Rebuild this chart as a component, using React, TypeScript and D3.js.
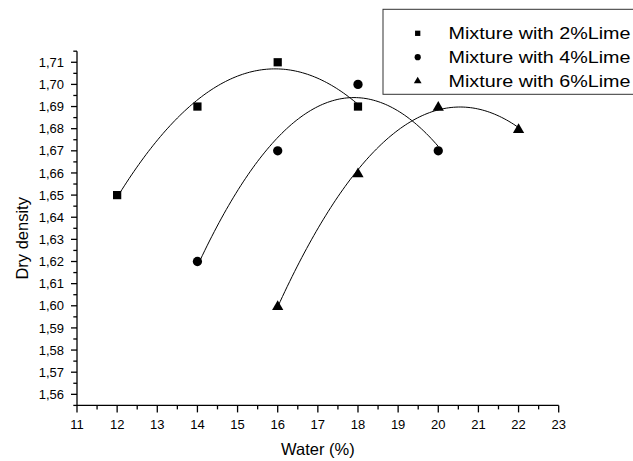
import React from "react";
import * as d3 from "d3";

const water2 = [12, 14, 16, 18];
const density2 = [1.65, 1.69, 1.71, 1.69];
const water4 = [14, 16, 18, 20];
const density4 = [1.62, 1.67, 1.70, 1.67];
const water6 = [16, 18, 20, 22];
const density6 = [1.60, 1.66, 1.69, 1.68];
const seriesNames = ["Mixture with 2%Lime", "Mixture with 4%Lime", "Mixture with 6%Lime"];
const xTicks = [11, 12, 13, 14, 15, 16, 17, 18, 19, 20, 21, 22, 23];
const yTicks = [1.56, 1.57, 1.58, 1.59, 1.6, 1.61, 1.62, 1.63, 1.64, 1.65, 1.66, 1.67, 1.68, 1.69, 1.7, 1.71];

const W = 633, H = 461;
const x = d3.scaleLinear().domain([11, 23]).range([77, 558.7]);
const y = d3.scaleLinear().domain([1.555, 1.715]).range([405.4, 51.2]);

function quadFit(xs: number[], ys: number[]) {
  // least squares y = a + b x + c x^2
  const n = xs.length;
  let s = [0, 0, 0, 0, 0], t = [0, 0, 0];
  for (let i = 0; i < n; i++) {
    const xv = xs[i];
    for (let k = 0; k <= 4; k++) s[k] += Math.pow(xv, k);
    for (let k = 0; k <= 2; k++) t[k] += Math.pow(xv, k) * ys[i];
  }
  const M = [
    [s[0], s[1], s[2], t[0]],
    [s[1], s[2], s[3], t[1]],
    [s[2], s[3], s[4], t[2]],
  ];
  for (let i = 0; i < 3; i++) {
    let p = i;
    for (let r = i + 1; r < 3; r++) if (Math.abs(M[r][i]) > Math.abs(M[p][i])) p = r;
    [M[i], M[p]] = [M[p], M[i]];
    for (let r = 0; r < 3; r++) {
      if (r === i) continue;
      const f = M[r][i] / M[i][i];
      for (let c = i; c < 4; c++) M[r][c] -= f * M[i][c];
    }
  }
  const a = M[0][3] / M[0][0], b = M[1][3] / M[1][1], c = M[2][3] / M[2][2];
  return (v: number) => a + b * v + c * v * v;
}

const series = [
  { xs: water2, ys: density2, sym: d3.symbolSquare, size: 68, lsize: 28 },
  { xs: water4, ys: density4, sym: d3.symbolCircle, size: 68, lsize: 30 },
  { xs: water6, ys: density6, sym: d3.symbolTriangle, size: 55, lsize: 26 },
];

export default function App() {
  const line = d3.line<[number, number]>().x((d) => x(d[0])).y((d) => y(d[1]));
  const minorX = d3.range(11.5, 23, 1);
  const minorY = d3.range(1.555, 1.7151, 0.01);
  const fmt = (v: number) => d3.format(".2f")(v).replace(".", ",");
  const font = "Arial, 'Liberation Sans', sans-serif";
  return (
    <svg width={W} height={H} style={{ position: "absolute", left: 0, top: 0, background: "#fff" }} fontFamily={font}>
      {series.map((s, i) => {
        const f = quadFit(s.xs, s.ys);
        const x0 = d3.min(s.xs)!, x1 = d3.max(s.xs)!;
        const pts: [number, number][] = d3.range(0, 101).map((k) => {
          const v = x0 + ((x1 - x0) * k) / 100;
          return [v, f(v)];
        });
        return <path key={"c" + i} d={line(pts)!} fill="none" stroke="#000" strokeWidth={1} />;
      })}
      {series.map((s, i) =>
        s.xs.map((xv, j) => (
          <path key={"m" + i + "-" + j} d={d3.symbol().type(s.sym).size(s.size)()!}
            transform={`translate(${x(xv)},${y(s.ys[j]) + (s.sym === d3.symbolTriangle ? 1 : 0)})`} fill="#000" />
        ))
      )}
      {/* axes */}
      <line x1={x(11)} x2={x(23)} y1={y(1.555)} y2={y(1.555)} stroke="#000" strokeWidth={1.3} />
      <line x1={x(11)} x2={x(11)} y1={y(1.555)} y2={y(1.715)} stroke="#000" strokeWidth={1.3} />
      {xTicks.map((t) => (
        <g key={"xt" + t}>
          <line x1={x(t)} x2={x(t)} y1={y(1.555)} y2={y(1.555) + 7} stroke="#000" strokeWidth={1.3} />
          <text x={x(t)} y={429} textAnchor="middle" fontSize={13}>{t}</text>
        </g>
      ))}
      {minorX.map((t) => (
        <line key={"xm" + t} x1={x(t)} x2={x(t)} y1={y(1.555)} y2={y(1.555) + 4} stroke="#000" strokeWidth={1.3} />
      ))}
      {yTicks.map((t) => (
        <g key={"yt" + t}>
          <line x1={x(11) - 6} x2={x(11)} y1={y(t)} y2={y(t)} stroke="#000" strokeWidth={1.3} />
          <text x={64} y={y(t) + 4.6} textAnchor="end" fontSize={13}>{fmt(t)}</text>
        </g>
      ))}
      {minorY.map((t) => (
        <line key={"ym" + t} x1={x(11) - 3.7} x2={x(11)} y1={y(t)} y2={y(t)} stroke="#000" strokeWidth={1.3} />
      ))}
      <text x={(x(11) + x(23)) / 2} y={455} textAnchor="middle" fontSize={16.5}>Water (%)</text>
      <text transform={`translate(28,${(y(1.555) + y(1.715)) / 2 + 10}) rotate(-90)`} textAnchor="middle" fontSize={16.5}>Dry density</text>
      {/* legend */}
      <rect x={383} y={9.3} width={260} height={85} fill="#fff" stroke="#333" strokeWidth={1} />
      {series.map((s, i) => (
        <g key={"lg" + i}>
          <path d={d3.symbol().type(s.sym).size(s.lsize)()!} transform={`translate(417.7,${33.3 + i * 23.9})`} fill="#000" />
          <text x={448.5} y={33.3 + i * 23.9 + 6} fontSize={17} textLength={182} lengthAdjust="spacingAndGlyphs">{seriesNames[i]}</text>
        </g>
      ))}
    </svg>
  );
}
